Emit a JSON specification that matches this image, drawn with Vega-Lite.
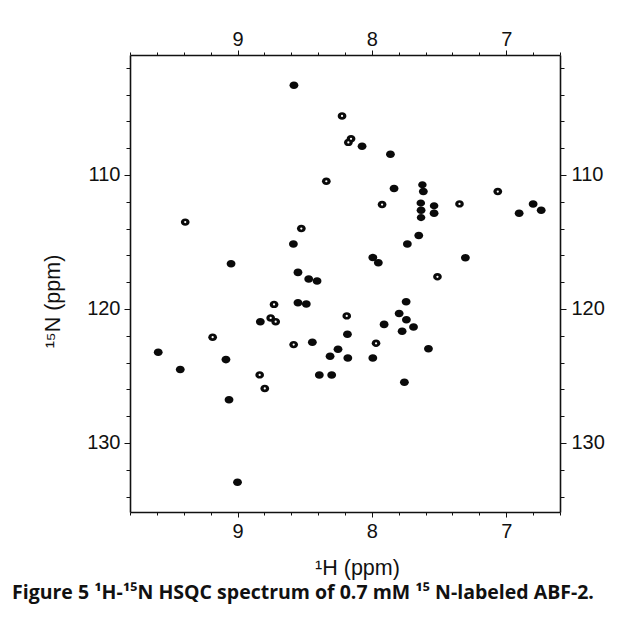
{
  "$schema": "https://vega.github.io/schema/vega-lite/v6.json",
  "width": 430,
  "height": 457,
  "autosize": "none",
  "padding": {"left": 130, "top": 55, "right": 65, "bottom": 112},
  "background": "white",
  "config": {
    "view": {"stroke": null},
    "axis": {
      "grid": false,
      "domainColor": "#111111",
      "domainWidth": 1.6,
      "tickColor": "#111111",
      "tickWidth": 1,
      "labelFont": "Liberation Sans",
      "labelFontSize": 20,
      "labelColor": "#111111",
      "labelOverlap": false,
      "labelFlush": false,
      "titleFont": "Liberation Sans",
      "titleFontSize": 21.5,
      "titleFontWeight": "normal",
      "titleColor": "#111111"
    }
  },
  "title": {
    "text": "Figure 5 ¹H-¹⁵N HSQC spectrum of 0.7 mM ¹⁵ N-labeled ABF-2.",
    "orient": "bottom",
    "anchor": "start",
    "frame": "group",
    "dx": -118,
    "offset": 5,
    "font": "Open Sans",
    "fontSize": 19.5,
    "fontWeight": "bold",
    "color": "#111111"
  },
  "data": {
    "values": [
      {"H": 8.58, "N": 103.3, "kind": "peak"},
      {"H": 8.222, "N": 105.6, "kind": "ring"},
      {"H": 8.339, "N": 110.47, "kind": "ring"},
      {"H": 8.175, "N": 107.57, "kind": "ring"},
      {"H": 8.155, "N": 107.3, "kind": "ring"},
      {"H": 8.073, "N": 107.86, "kind": "peak"},
      {"H": 7.862, "N": 108.46, "kind": "peak"},
      {"H": 7.835, "N": 111.02, "kind": "peak"},
      {"H": 7.624, "N": 110.74, "kind": "tiny"},
      {"H": 7.617, "N": 111.24, "kind": "peak"},
      {"H": 7.924, "N": 112.21, "kind": "ring"},
      {"H": 7.636, "N": 112.1, "kind": "small"},
      {"H": 7.537, "N": 112.3, "kind": "small"},
      {"H": 7.348, "N": 112.16, "kind": "smallring"},
      {"H": 7.063, "N": 111.24, "kind": "ring"},
      {"H": 6.8, "N": 112.16, "kind": "peak"},
      {"H": 6.74, "N": 112.63, "kind": "peak"},
      {"H": 7.634, "N": 112.63, "kind": "peak"},
      {"H": 7.634, "N": 113.18, "kind": "tiny"},
      {"H": 7.537, "N": 112.85, "kind": "peak"},
      {"H": 6.904, "N": 112.85, "kind": "peak"},
      {"H": 7.651, "N": 114.52, "kind": "peak"},
      {"H": 7.736, "N": 115.16, "kind": "peak"},
      {"H": 7.993, "N": 116.16, "kind": "peak"},
      {"H": 7.952, "N": 116.55, "kind": "peak"},
      {"H": 7.304, "N": 116.18, "kind": "peak"},
      {"H": 7.512, "N": 117.6, "kind": "smallring"},
      {"H": 7.745, "N": 119.46, "kind": "peak"},
      {"H": 7.797, "N": 120.33, "kind": "peak"},
      {"H": 7.743, "N": 120.8, "kind": "peak"},
      {"H": 7.69, "N": 121.34, "kind": "peak"},
      {"H": 7.775, "N": 121.67, "kind": "peak"},
      {"H": 7.909, "N": 121.15, "kind": "peak"},
      {"H": 8.187, "N": 120.52, "kind": "smallring"},
      {"H": 8.182, "N": 121.89, "kind": "peak"},
      {"H": 7.969, "N": 122.56, "kind": "smallring"},
      {"H": 7.579, "N": 122.96, "kind": "peak"},
      {"H": 8.179, "N": 123.65, "kind": "peak"},
      {"H": 7.993, "N": 123.65, "kind": "peak"},
      {"H": 9.389, "N": 113.52, "kind": "ring"},
      {"H": 8.525, "N": 114.0, "kind": "ring"},
      {"H": 8.584, "N": 115.16, "kind": "peak"},
      {"H": 9.048, "N": 116.63, "kind": "peak"},
      {"H": 8.55, "N": 117.27, "kind": "peak"},
      {"H": 8.47, "N": 117.77, "kind": "peak"},
      {"H": 8.408, "N": 117.92, "kind": "peak"},
      {"H": 8.728, "N": 119.66, "kind": "ring"},
      {"H": 8.55, "N": 119.53, "kind": "peak"},
      {"H": 8.488, "N": 119.63, "kind": "peak"},
      {"H": 8.83, "N": 120.95, "kind": "peak"},
      {"H": 8.753, "N": 120.67, "kind": "ring"},
      {"H": 8.716, "N": 120.95, "kind": "ring"},
      {"H": 9.185, "N": 122.11, "kind": "ring"},
      {"H": 9.59, "N": 123.23, "kind": "peak"},
      {"H": 9.086, "N": 123.78, "kind": "peak"},
      {"H": 8.582, "N": 122.66, "kind": "ring"},
      {"H": 8.443, "N": 122.49, "kind": "peak"},
      {"H": 8.252, "N": 123.0, "kind": "peak"},
      {"H": 8.311, "N": 123.53, "kind": "peak"},
      {"H": 9.426, "N": 124.52, "kind": "peak"},
      {"H": 9.063, "N": 126.78, "kind": "peak"},
      {"H": 8.835, "N": 124.92, "kind": "smallring"},
      {"H": 8.797, "N": 125.93, "kind": "ring"},
      {"H": 8.391, "N": 124.92, "kind": "peak"},
      {"H": 8.299, "N": 124.92, "kind": "peak"},
      {"H": 9.0, "N": 132.93, "kind": "peak"},
      {"H": 7.758, "N": 125.46, "kind": "peak"}
    ]
  },
  "layer": [
    {
      "mark": {"type": "point", "filled": true, "opacity": 1, "color": "#0a0a0a", "shape": "M-1,0A1,0.85 0 1,0 1,0A1,0.85 0 1,0 -1,0Z"},
      "encoding": {
        "x": {
          "field": "H", "type": "quantitative",
          "scale": {"domain": [6.6, 9.8], "reverse": true, "nice": false, "zero": false},
          "axis": {
            "orient": "bottom",
            "values": [9.8, 9.6, 9.4, 9.2, 9.0, 8.8, 8.6, 8.4, 8.2, 8.0, 7.8, 7.6, 7.4, 7.2, 7.0, 6.8, 6.6],
            "labelExpr": "abs(datum.value - round(datum.value)) < 0.001 ? format(datum.value, 'd') : ''",
            "tickSize": {"condition": {"test": "abs(datum.value - round(datum.value)) < 0.001", "value": 5}, "value": 3},
            "labelPadding": 4,
            "title": "¹H (ppm)",
            "titlePadding": 16,
            "titleX": 227
          }
        },
        "y": {
          "field": "N", "type": "quantitative",
          "scale": {"domain": [101.05, 135.15], "reverse": true, "nice": false, "zero": false},
          "axis": {
            "orient": "left",
            "values": [102, 104, 106, 108, 110, 112, 114, 116, 118, 120, 122, 124, 126, 128, 130, 132, 134],
            "labelExpr": "datum.value % 10 === 0 ? format(datum.value, 'd') : ''",
            "tickSize": {"condition": {"test": "datum.value % 10 === 0", "value": 6}, "value": 4},
            "labelPadding": 4,
            "title": "¹⁵N (ppm)",
            "titlePadding": 22,
            "titleY": 246
          }
        },
        "size": {
          "field": "kind", "type": "ordinal",
          "scale": {"domain": ["peak", "ring", "smallring", "small", "tiny"], "range": [78, 72, 38, 25, 9]},
          "legend": null
        }
      }
    },
    {
      "transform": [{"filter": "datum.kind === 'ring' || datum.kind === 'smallring'"}],
      "mark": {"type": "point", "filled": true, "opacity": 1, "color": "white", "shape": "circle", "size": 5},
      "encoding": {
        "x": {
          "field": "H", "type": "quantitative",
          "scale": {"domain": [6.6, 9.8], "reverse": true, "nice": false, "zero": false},
          "axis": {
            "orient": "top",
            "values": [9.8, 9.6, 9.4, 9.2, 9.0, 8.8, 8.6, 8.4, 8.2, 8.0, 7.8, 7.6, 7.4, 7.2, 7.0, 6.8, 6.6],
            "labelExpr": "abs(datum.value - round(datum.value)) < 0.001 ? format(datum.value, 'd') : ''",
            "tickSize": {"condition": {"test": "abs(datum.value - round(datum.value)) < 0.001", "value": 5}, "value": 3},
            "labelPadding": 1,
            "title": null
          }
        },
        "y": {
          "field": "N", "type": "quantitative",
          "scale": {"domain": [101.05, 135.15], "reverse": true, "nice": false, "zero": false},
          "axis": {
            "orient": "right",
            "values": [102, 104, 106, 108, 110, 112, 114, 116, 118, 120, 122, 124, 126, 128, 130, 132, 134],
            "labelExpr": "datum.value % 10 === 0 ? format(datum.value, 'd') : ''",
            "tickSize": {"condition": {"test": "datum.value % 10 === 0", "value": 6}, "value": 4},
            "labelPadding": 5,
            "title": null
          }
        }
      }
    }
  ],
  "resolve": {"axis": {"x": "independent", "y": "independent"}}
}
